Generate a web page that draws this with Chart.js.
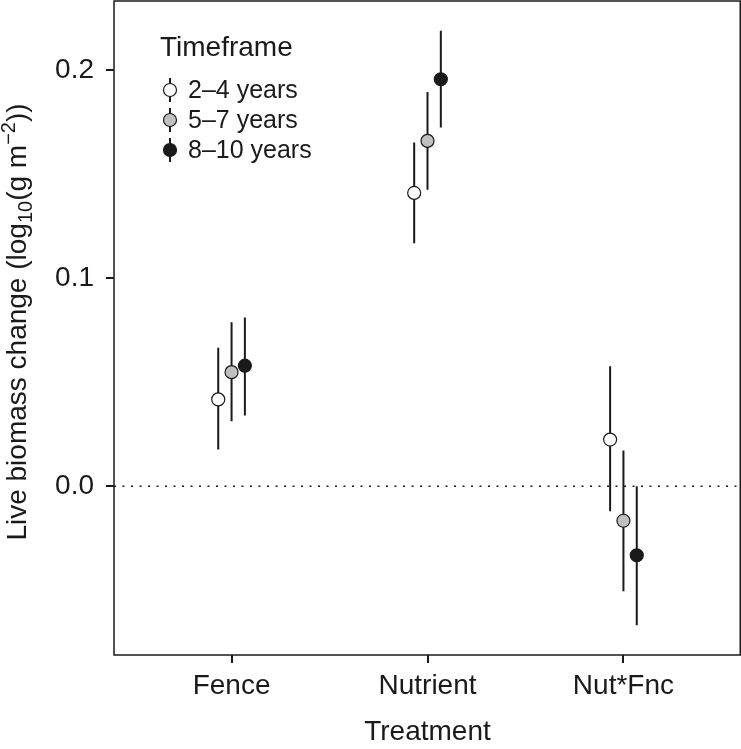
<!DOCTYPE html>
<html>
<head>
<meta charset="utf-8">
<script src="https://cdn.jsdelivr.net/npm/chart.js@4/dist/chart.umd.min.js"></script>
<style>
  html, body { margin: 0; padding: 0; background: #fff; }
  canvas { display: block; }
</style>
</head>
<body>
<canvas id="chart" width="741" height="749"></canvas>
<script>
// Data
const categories = ['Fence', 'Nutrient', 'Nut*Fnc'];
const timeframes = ['2–4 years', '5–7 years', '8–10 years'];
const yTicks = [0, 0.1, 0.2];

const est24 = [0.0417, 0.1409, 0.0224];
const lo24 = [0.0176, 0.1167, -0.0120];
const hi24 = [0.0665, 0.1651, 0.0576];

const est57 = [0.0548, 0.1659, -0.0166];
const lo57 = [0.0312, 0.1424, -0.0505];
const hi57 = [0.0788, 0.1894, 0.0171];

const est810 = [0.0579, 0.1955, -0.0332];
const lo810 = [0.0340, 0.1723, -0.0668];
const hi810 = [0.0811, 0.2188, 0.0000];

const dodge = [-0.068, 0, 0.068];
const fills = ['#ffffff', '#c0c0c0', '#1a1a1a'];
const ink = '#1a1a1a';
const fontFamily = "'Liberation Sans', Arial, Helvetica, sans-serif";

const series = [
    { est: est24, lo: lo24, hi: hi24 },
    { est: est57, lo: lo57, hi: hi57 },
    { est: est810, lo: lo810, hi: hi810 }
];

const datasets = [];

// points (black on top)
series.forEach((s, i) => {
    datasets.push({
        label: timeframes[i],
        data: s.est.map((v, j) => ({ x: j + 1 + dodge[i], y: v })),
        pointRadius: 6.5,
        pointHoverRadius: 6.5,
        pointBackgroundColor: fills[i],
        pointBorderColor: ink,
        pointBorderWidth: 1.2,
        showLine: false,
        order: 2 - i
    });
});

// error bars as line segments split by gaps
series.forEach((s, i) => {
    const pts = [];
    s.est.forEach((v, j) => {
        const x = j + 1 + dodge[i];
        pts.push({ x: x, y: s.lo[j] }, { x: x, y: s.hi[j] }, { x: x, y: null });
    });
    datasets.push({
        label: 'bar ' + timeframes[i],
        data: pts,
        showLine: true,
        spanGaps: false,
        pointRadius: 0,
        borderColor: ink,
        borderWidth: 2,
        order: 5
    });
});

// dotted zero line
datasets.push({
    label: 'zero',
    data: [{ x: 0.4, y: 0 }, { x: 3.6, y: 0 }],
    showLine: true,
    pointRadius: 0,
    borderColor: ink,
    borderWidth: 1.6,
    borderDash: [2, 6.5],
    order: 6
});

function noPad(scale) {
    scale.paddingTop = 0;
    scale.paddingBottom = 0;
    scale.paddingLeft = 0;
    scale.paddingRight = 0;
}

const frameAndLabels = {
    id: 'frameAndLabels',
    afterDraw(chart) {
        const ctx = chart.ctx;
        const a = chart.chartArea;
        ctx.save();
        // panel border
        ctx.strokeStyle = ink;
        ctx.lineWidth = 1.5;
        ctx.strokeRect(a.left, a.top, a.right - a.left - 0.75, a.bottom - a.top);

        // y axis title with sub/superscripts
        const big = '28px ' + fontFamily;
        const small = '20px ' + fontFamily;
        const parts = [
            { t: 'Live biomass change (log', f: big, dy: 0 },
            { t: '10', f: small, dy: 6 },
            { t: '(g m', f: big, dy: 0 },
            { t: '−2', f: small, dy: -11 },
            { t: '))', f: big, dy: 0 }
        ];
        let total = 0;
        parts.forEach(p => { ctx.font = p.f; p.w = ctx.measureText(p.t).width; total += p.w; });
        ctx.translate(26, 322);
        ctx.rotate(-Math.PI / 2);
        ctx.fillStyle = ink;
        ctx.textBaseline = 'alphabetic';
        ctx.textAlign = 'left';
        let x = -total / 2;
        parts.forEach(p => { ctx.font = p.f; ctx.fillText(p.t, x, p.dy); x += p.w; });
        ctx.restore();

        // legend
        ctx.save();
        ctx.fillStyle = ink;
        ctx.font = '28px ' + fontFamily;
        ctx.textBaseline = 'alphabetic';
        ctx.fillText('Timeframe', 160, 56);
        ctx.font = '25px ' + fontFamily;
        ctx.textBaseline = 'middle';
        timeframes.forEach((name, i) => {
            const cy = 90 + 30 * i;
            ctx.strokeStyle = ink;
            ctx.lineWidth = 2;
            ctx.beginPath();
            ctx.moveTo(170, cy - 12);
            ctx.lineTo(170, cy + 12);
            ctx.stroke();
            ctx.beginPath();
            ctx.arc(170, cy, 6.5, 0, Math.PI * 2);
            ctx.fillStyle = fills[i];
            ctx.fill();
            ctx.lineWidth = 1.2;
            ctx.stroke();
            ctx.fillStyle = ink;
            ctx.fillText(name, 188, cy + 1);
        });
        ctx.restore();
    }
};

new Chart(document.getElementById('chart'), {
    type: 'scatter',
    data: { datasets: datasets },
    options: {
        responsive: false,
        animation: false,
        devicePixelRatio: 1,
        layout: { autoPadding: false, padding: { top: 1, right: 0, left: 0, bottom: 0 } },
        plugins: {
            legend: { display: false },
            tooltip: { enabled: false }
        },
        scales: {
            x: {
                type: 'linear',
                min: 0.4,
                max: 3.6,
                afterBuildTicks: scale => { scale.ticks = categories.map((c, i) => ({ value: i + 1 })); },
                afterFit: scale => { scale.height = 94; noPad(scale); },
                grid: { drawOnChartArea: false, drawTicks: true, tickLength: 8, color: ink, lineWidth: 2 },
                border: { display: false },
                ticks: {
                    color: ink,
                    padding: 6,
                    maxRotation: 0,
                    autoSkip: false,
                    font: { family: fontFamily, size: 28 },
                    callback: value => categories[Math.round(value) - 1]
                },
                title: {
                    display: true,
                    text: 'Treatment',
                    color: ink,
                    font: { family: fontFamily, size: 28 },
                    padding: { top: 0, bottom: 0 }
                }
            },
            y: {
                min: -0.0811,
                max: 0.2331,
                afterBuildTicks: scale => { scale.ticks = yTicks.map(v => ({ value: v })); },
                afterFit: scale => { scale.width = 114; noPad(scale); },
                grid: { drawOnChartArea: false, drawTicks: true, tickLength: 8, color: ink, lineWidth: 2 },
                border: { display: false },
                ticks: {
                    color: ink,
                    padding: 12,
                    font: { family: fontFamily, size: 28 },
                    callback: value => value.toFixed(1)
                }
            }
        }
    },
    plugins: [frameAndLabels]
});
</script>
</body>
</html>
